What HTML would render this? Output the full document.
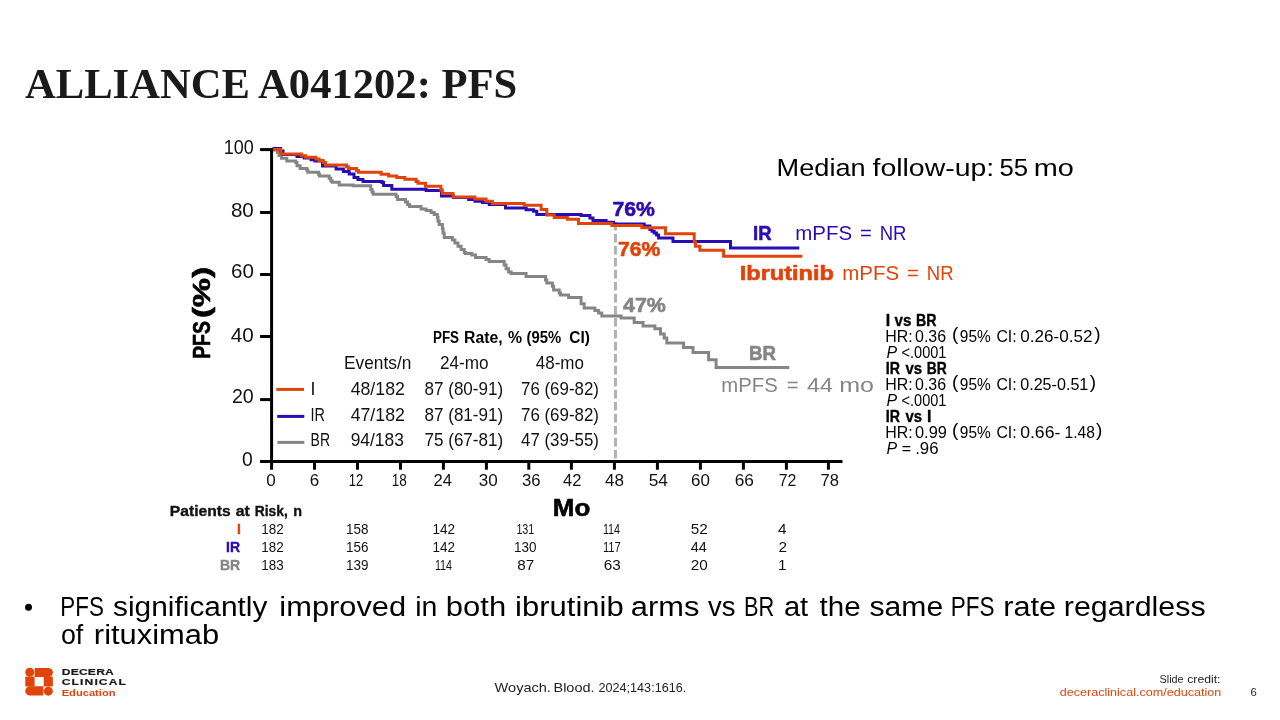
<!DOCTYPE html>
<html lang="en">
<head>
<meta charset="utf-8">
<title>ALLIANCE A041202: PFS</title>
<style>
html,body{margin:0;padding:0;background:#fff;}
body{width:1280px;height:720px;overflow:hidden;position:relative;font-family:"Liberation Sans",sans-serif;}
svg text{white-space:pre;}
</style>
</head>
<body>
<svg width="1280" height="720" viewBox="0 0 1280 720" style="position:absolute;left:0;top:0;will-change:transform;font-family:'Liberation Sans',sans-serif">
<line x1="615.45" y1="221.95" x2="615.45" y2="460.2" stroke="#b2b2b2" stroke-width="3" stroke-dasharray="8.6 3.4"/>
<g fill="none" stroke-width="3" stroke-linejoin="miter">
<polyline stroke="#858585" points="273.0,150.1 277.4,150.1 277.4,152.6 279.0,152.6 279.0,155.5 281.4,155.5 281.4,158.2 286.8,158.2 286.8,161.0 295.8,161.0 295.8,162.6 297.0,162.6 297.0,165.8 300.1,165.8 300.1,168.5 306.8,168.5 306.8,170.1 307.8,170.1 307.8,172.2 318.6,172.2 318.6,174.2 319.5,174.2 319.5,176.0 329.2,176.0 329.2,178.2 330.8,178.2 330.8,180.8 332.0,180.8 332.0,182.2 339.2,182.2 339.2,185.1 353.0,185.1 353.0,185.8 370.8,185.8 370.8,189.5 372.0,189.5 372.0,192.0 373.2,192.0 373.2,194.2 396.1,194.2 396.1,196.4 397.6,196.4 397.6,199.5 405.5,199.5 405.5,202.0 407.6,202.0 407.6,204.5 409.5,204.5 409.5,206.6 421.1,206.6 421.1,208.9 426.1,208.9 426.1,210.5 431.1,210.5 431.1,212.5 434.2,212.5 434.2,214.4 437.4,214.4 437.4,217.5 438.0,217.5 438.0,221.2 439.2,221.2 439.2,224.4 442.4,224.4 442.4,228.8 443.0,228.8 443.0,233.1 444.2,233.1 444.2,237.5 452.4,237.5 452.4,240.0 454.9,240.0 454.9,243.1 458.0,243.1 458.0,246.2 461.1,246.2 461.1,249.4 464.2,249.4 464.2,252.5 465.5,252.5 465.5,253.5 471.8,253.5 471.8,255.0 475.5,255.0 475.5,257.5 486.1,257.5 486.1,259.4 489.2,259.4 489.2,261.5 504.2,261.5 504.2,265.0 506.1,265.0 506.1,268.8 508.6,268.8 508.6,271.9 511.1,271.9 511.1,273.5 526.1,273.5 526.1,276.5 545.5,276.5 545.5,280.0 546.8,280.0 546.8,283.1 552.4,283.1 552.4,286.2 553.6,286.2 553.6,290.0 559.2,290.0 559.2,293.1 560.5,293.1 560.5,295.0 568.6,295.0 568.6,297.5 581.1,297.5 581.1,303.8 584.2,303.8 584.2,308.1 594.9,308.1 594.9,310.6 598.6,310.6 598.6,313.1 601.8,313.1 601.8,316.0 621.1,316.0 621.1,318.1 634.2,318.1 634.2,322.5 643.0,322.5 643.0,326.0 654.9,326.0 654.9,328.8 660.5,328.8 660.5,334.0 664.2,334.0 664.2,338.1 666.8,338.1 666.8,343.1 683.6,343.1 683.6,347.5 693.0,347.5 693.0,352.5 708.6,352.5 708.6,359.8 716.1,359.8 716.1,367.5 789.3,367.5"/>
<polyline stroke="#2a0cb4" points="272.4,148.6 280.5,148.6 280.5,151.0 283.0,151.0 283.0,154.5 297.0,154.5 297.0,156.4 304.2,156.4 304.2,158.0 311.1,158.0 311.1,159.8 314.9,159.8 314.9,161.0 322.5,161.0 322.5,166.0 336.1,166.0 336.1,168.9 343.4,168.9 343.4,171.4 349.2,171.4 349.2,173.9 354.0,173.9 354.0,177.6 358.0,177.6 358.0,179.5 363.0,179.5 363.0,181.4 382.0,181.4 382.0,182.6 383.6,182.6 383.6,185.5 391.8,185.5 391.8,189.2 426.1,189.2 426.1,190.6 441.5,190.6 441.5,196.0 453.6,196.0 453.6,197.5 468.6,197.5 468.6,199.4 474.9,199.4 474.9,201.2 482.4,201.2 482.4,202.5 489.2,202.5 489.2,204.4 505.5,204.4 505.5,208.1 526.1,208.1 526.1,209.8 533.6,209.8 533.6,211.2 536.8,211.2 536.8,214.6 581.1,214.6 581.1,215.6 589.9,215.6 589.9,218.1 593.0,218.1 593.0,220.6 606.1,220.6 606.1,222.2 613.6,222.2 613.6,224.0 644.2,224.0 644.2,226.0 649.9,226.0 649.9,229.4 652.0,229.4 652.0,231.2 654.2,231.2 654.2,233.1 656.5,233.1 656.5,235.0 658.6,235.0 658.6,238.1 673.0,238.1 673.0,241.6 730.5,241.6 730.5,248.1 799.3,248.1"/>
<polyline stroke="#e0440a" points="272.4,149.5 280.9,149.5 280.9,153.9 301.5,153.9 301.5,155.8 305.5,155.8 305.5,157.2 315.9,157.2 315.9,158.9 319.2,158.9 319.2,160.8 323.4,160.8 323.4,162.6 325.5,162.6 325.5,165.1 346.5,165.1 346.5,166.8 348.4,166.8 348.4,168.5 356.5,168.5 356.5,170.5 358.4,170.5 358.4,172.2 381.1,172.2 381.1,174.2 388.6,174.2 388.6,176.0 396.8,176.0 396.8,177.6 404.9,177.6 404.9,179.2 416.1,179.2 416.1,181.4 418.0,181.4 418.0,183.2 425.5,183.2 425.5,186.2 440.9,186.2 440.9,190.0 442.4,190.0 442.4,193.5 453.0,193.5 453.0,196.9 474.9,196.9 474.9,199.0 486.1,199.0 486.1,201.2 492.4,201.2 492.4,203.5 524.2,203.5 524.2,205.2 541.1,205.2 541.1,209.4 546.8,209.4 546.8,215.0 554.2,215.0 554.2,217.5 567.4,217.5 567.4,219.3 578.5,219.3 578.5,223.5 611.8,223.5 611.8,225.6 641.8,225.6 641.8,227.8 665.5,227.8 665.5,233.8 694.2,233.8 694.2,241.9 695.5,241.9 695.5,246.2 699.9,246.2 699.9,250.2 723.6,250.2 723.6,256.2 802.4,256.2"/>
</g>
<line x1="271.6" y1="148.2" x2="271.6" y2="469.7" stroke="#000" stroke-width="3"/>
<line x1="260.1" y1="461.6" x2="842.5" y2="461.6" stroke="#000" stroke-width="3"/>
<line x1="260.1" y1="149.6" x2="271.6" y2="149.6" stroke="#000" stroke-width="3"/>
<line x1="260.1" y1="212.5" x2="271.6" y2="212.5" stroke="#000" stroke-width="3"/>
<line x1="260.1" y1="274.5" x2="271.6" y2="274.5" stroke="#000" stroke-width="3"/>
<line x1="260.1" y1="336.5" x2="271.6" y2="336.5" stroke="#000" stroke-width="3"/>
<line x1="260.1" y1="399.6" x2="271.6" y2="399.6" stroke="#000" stroke-width="3"/>
<line x1="314.50" y1="461.6" x2="314.50" y2="469.7" stroke="#000" stroke-width="3"/>
<line x1="357.50" y1="461.6" x2="357.50" y2="469.7" stroke="#000" stroke-width="3"/>
<line x1="400.50" y1="461.6" x2="400.50" y2="469.7" stroke="#000" stroke-width="3"/>
<line x1="443.40" y1="461.6" x2="443.40" y2="469.7" stroke="#000" stroke-width="3"/>
<line x1="486.40" y1="461.6" x2="486.40" y2="469.7" stroke="#000" stroke-width="3"/>
<line x1="528.80" y1="461.6" x2="528.80" y2="469.7" stroke="#000" stroke-width="3"/>
<line x1="571.40" y1="461.6" x2="571.40" y2="469.7" stroke="#000" stroke-width="3"/>
<line x1="614.40" y1="461.6" x2="614.40" y2="469.7" stroke="#000" stroke-width="3"/>
<line x1="657.40" y1="461.6" x2="657.40" y2="469.7" stroke="#000" stroke-width="3"/>
<line x1="700.40" y1="461.6" x2="700.40" y2="469.7" stroke="#000" stroke-width="3"/>
<line x1="743.40" y1="461.6" x2="743.40" y2="469.7" stroke="#000" stroke-width="3"/>
<line x1="786.40" y1="461.6" x2="786.40" y2="469.7" stroke="#000" stroke-width="3"/>
<line x1="828.40" y1="461.6" x2="828.40" y2="469.7" stroke="#000" stroke-width="3"/>
<line x1="276.3" y1="389.4" x2="304.0" y2="389.4" stroke="#e0440a" stroke-width="3"/>
<line x1="277.2" y1="416.4" x2="304.3" y2="416.4" stroke="#2a0cb4" stroke-width="3"/>
<line x1="277.4" y1="442.4" x2="304.3" y2="442.4" stroke="#858585" stroke-width="3"/>
<circle cx="28.5" cy="607.3" r="3.5" fill="#000"/>
<g fill="#e0440a">
<circle cx="29.75" cy="672.3" r="4.5"/>
<path d="M35.4 667.9h12.9a4.6 4.6 0 0 1 0 9.2h-13.7v-8.4a0.8 0.8 0 0 1 0.8-0.8z"/>
<rect x="25.3" y="676.6" width="9.3" height="9.9"/>
<rect x="43.7" y="676.6" width="9.1" height="9.9"/>
<path d="M29.9 686.3h13.5v8.5a0.8 0.8 0 0 1-0.8 0.8h-12.7a4.65 4.65 0 0 1 0-9.3z"/>
<circle cx="48.35" cy="691.15" r="4.5"/>
</g>
<text x="223.82" y="154.00" textLength="29.95" lengthAdjust="spacingAndGlyphs" fill="#111111" style="font-size:19.3px;">100</text>
<text x="230.90" y="217.00" textLength="22.92" lengthAdjust="spacingAndGlyphs" fill="#111111" style="font-size:19.3px;">80</text>
<text x="231.00" y="277.90" textLength="22.82" lengthAdjust="spacingAndGlyphs" fill="#111111" style="font-size:19.3px;">60</text>
<text x="230.80" y="341.90" textLength="23.03" lengthAdjust="spacingAndGlyphs" fill="#111111" style="font-size:19.3px;">40</text>
<text x="231.95" y="402.90" textLength="21.84" lengthAdjust="spacingAndGlyphs" fill="#111111" style="font-size:19.3px;">20</text>
<text x="242.05" y="465.90" fill="#111111" style="font-size:19.3px;">0</text>
<text x="266.32" y="485.90" fill="#111111" style="font-size:17px;">0</text>
<text x="309.75" y="485.90" fill="#111111" style="font-size:17px;">6</text>
<text x="348.63" y="485.90" textLength="14.52" lengthAdjust="spacingAndGlyphs" fill="#111111" style="font-size:17px;">12</text>
<text x="391.70" y="485.90" textLength="15.06" lengthAdjust="spacingAndGlyphs" fill="#111111" style="font-size:17px;">18</text>
<text x="433.50" y="485.90" textLength="18.44" lengthAdjust="spacingAndGlyphs" fill="#111111" style="font-size:17px;">24</text>
<text x="478.75" y="485.90" textLength="18.96" lengthAdjust="spacingAndGlyphs" fill="#111111" style="font-size:17px;">30</text>
<text x="521.90" y="485.90" textLength="18.55" lengthAdjust="spacingAndGlyphs" fill="#111111" style="font-size:17px;">36</text>
<text x="563.10" y="485.90" textLength="18.34" lengthAdjust="spacingAndGlyphs" fill="#111111" style="font-size:17px;">42</text>
<text x="605.00" y="485.90" textLength="18.96" lengthAdjust="spacingAndGlyphs" fill="#111111" style="font-size:17px;">48</text>
<text x="648.75" y="485.90" textLength="19.21" lengthAdjust="spacingAndGlyphs" fill="#111111" style="font-size:17px;">54</text>
<text x="691.00" y="485.90" textLength="18.85" lengthAdjust="spacingAndGlyphs" fill="#111111" style="font-size:17px;">60</text>
<text x="734.75" y="485.90" textLength="19.21" lengthAdjust="spacingAndGlyphs" fill="#111111" style="font-size:17px;">66</text>
<text x="778.75" y="485.90" textLength="17.67" lengthAdjust="spacingAndGlyphs" fill="#111111" style="font-size:17px;">72</text>
<text x="820.60" y="485.90" textLength="18.34" lengthAdjust="spacingAndGlyphs" fill="#111111" style="font-size:17px;">78</text>
<text transform="translate(210.00 358.00) rotate(-90)" y="0" fill="#000" stroke="#000" stroke-width="0.6" stroke-linejoin="round" style="font-size:23.5px;font-weight:700;"><tspan x="-0.82" textLength="37.68" lengthAdjust="spacingAndGlyphs">PFS</tspan> <tspan x="39.90" textLength="51.26" lengthAdjust="spacingAndGlyphs">(%)</tspan></text>
<text x="552.89" y="516.00" textLength="37.50" lengthAdjust="spacingAndGlyphs" fill="#000" stroke="#000" stroke-width="0.6" stroke-linejoin="round" style="font-size:23.5px;font-weight:700;">Mo</text>
<text y="176.00" fill="#000" style="font-size:24.2px;"><tspan x="776.63" textLength="89.00" lengthAdjust="spacingAndGlyphs">Median</tspan> <tspan x="872.50" textLength="121.72" lengthAdjust="spacingAndGlyphs">follow-up:</tspan> <tspan x="999.40" textLength="28.58" lengthAdjust="spacingAndGlyphs">55</tspan> <tspan x="1033.81" textLength="40.13" lengthAdjust="spacingAndGlyphs">mo</tspan></text>
<text x="612.40" y="215.60" textLength="42.40" lengthAdjust="spacingAndGlyphs" fill="#2a0cb4" stroke="#2a0cb4" stroke-width="0.6" stroke-linejoin="round" style="font-size:20.7px;font-weight:700;">76%</text>
<text x="618.00" y="255.60" textLength="42.30" lengthAdjust="spacingAndGlyphs" fill="#e0440a" stroke="#e0440a" stroke-width="0.6" stroke-linejoin="round" style="font-size:20.7px;font-weight:700;">76%</text>
<text x="623.00" y="311.90" textLength="42.91" lengthAdjust="spacingAndGlyphs" fill="#858585" stroke="#858585" stroke-width="0.6" stroke-linejoin="round" style="font-size:20.7px;font-weight:700;">47%</text>
<text x="753.09" y="240.00" textLength="18.51" lengthAdjust="spacingAndGlyphs" fill="#2a0cb4" stroke="#2a0cb4" stroke-width="0.6" stroke-linejoin="round" style="font-size:20.4px;font-weight:700;">IR</text>
<text y="240.00" fill="#2a0cb4" style="font-size:20.3px;"><tspan x="795.19" textLength="56.84" lengthAdjust="spacingAndGlyphs">mPFS</tspan> <tspan x="860.00">=</tspan> <tspan x="879.68" textLength="26.81" lengthAdjust="spacingAndGlyphs">NR</tspan></text>
<text x="739.73" y="280.40" textLength="94.15" lengthAdjust="spacingAndGlyphs" fill="#e0440a" stroke="#e0440a" stroke-width="0.6" stroke-linejoin="round" style="font-size:20.2px;font-weight:700;">Ibrutinib</text>
<text y="280.40" fill="#e0440a" style="font-size:20.3px;"><tspan x="842.29" textLength="56.84" lengthAdjust="spacingAndGlyphs">mPFS</tspan> <tspan x="907.10">=</tspan> <tspan x="926.78" textLength="26.81" lengthAdjust="spacingAndGlyphs">NR</tspan></text>
<text x="748.98" y="360.00" textLength="26.96" lengthAdjust="spacingAndGlyphs" fill="#858585" stroke="#858585" stroke-width="0.6" stroke-linejoin="round" style="font-size:20.4px;font-weight:700;">BR</text>
<text y="392.00" fill="#858585" style="font-size:20.3px;"><tspan x="721.30" textLength="56.43" lengthAdjust="spacingAndGlyphs">mPFS</tspan> <tspan x="786.85">=</tspan> <tspan x="807.10" textLength="25.62" lengthAdjust="spacingAndGlyphs">44</tspan> <tspan x="839.27" textLength="34.78" lengthAdjust="spacingAndGlyphs">mo</tspan></text>
<text y="326.00" fill="#000" stroke="#000" stroke-width="0.35" stroke-linejoin="round" style="font-size:15.9px;font-weight:700;"><tspan x="885.65">I</tspan> <tspan x="894.60" textLength="16.85" lengthAdjust="spacingAndGlyphs">vs</tspan> <tspan x="915.91" textLength="20.53" lengthAdjust="spacingAndGlyphs">BR</tspan></text>
<text y="342.00" fill="#000" style="font-size:15.9px;"><tspan x="885.25" textLength="27.42" lengthAdjust="spacingAndGlyphs" y="342.00">HR:</tspan> <tspan x="915.00" textLength="31.09" lengthAdjust="spacingAndGlyphs" y="342.00">0.36</tspan> <tspan x="952.10" y="340.40" style="font-size:19.0px">(</tspan><tspan x="959.80" textLength="30.93" lengthAdjust="spacingAndGlyphs" y="342.00">95%</tspan> <tspan x="996.40" textLength="20.32" lengthAdjust="spacingAndGlyphs" y="342.00">CI:</tspan> <tspan x="1020.20" textLength="72.23" lengthAdjust="spacingAndGlyphs" y="342.00">0.26-0.52</tspan><tspan x="1094.35" y="340.40" style="font-size:19.0px">)</tspan></text>
<text x="886.60" y="358.00" fill="#000" style="font-size:15.9px;font-style:italic;">P</text>
<text x="901.60" y="358.00" textLength="44.85" lengthAdjust="spacingAndGlyphs" fill="#000" style="font-size:15.9px;">&lt;.0001</text>
<text y="374.00" fill="#000" stroke="#000" stroke-width="0.35" stroke-linejoin="round" style="font-size:15.9px;font-weight:700;"><tspan x="885.70" textLength="14.23" lengthAdjust="spacingAndGlyphs">IR</tspan> <tspan x="905.50" textLength="16.65" lengthAdjust="spacingAndGlyphs">vs</tspan> <tspan x="926.63" textLength="20.01" lengthAdjust="spacingAndGlyphs">BR</tspan></text>
<text y="390.00" fill="#000" style="font-size:15.9px;"><tspan x="885.25" textLength="27.42" lengthAdjust="spacingAndGlyphs" y="390.00">HR:</tspan> <tspan x="915.00" textLength="31.09" lengthAdjust="spacingAndGlyphs" y="390.00">0.36</tspan> <tspan x="952.10" y="388.40" style="font-size:19.0px">(</tspan><tspan x="959.80" textLength="30.93" lengthAdjust="spacingAndGlyphs" y="390.00">95%</tspan> <tspan x="996.40" textLength="20.32" lengthAdjust="spacingAndGlyphs" y="390.00">CI:</tspan> <tspan x="1020.20" textLength="68.14" lengthAdjust="spacingAndGlyphs" y="390.00">0.25-0.51</tspan><tspan x="1089.75" y="388.40" style="font-size:19.0px">)</tspan></text>
<text x="886.60" y="406.00" fill="#000" style="font-size:15.9px;font-style:italic;">P</text>
<text x="901.60" y="406.00" textLength="44.85" lengthAdjust="spacingAndGlyphs" fill="#000" style="font-size:15.9px;">&lt;.0001</text>
<text y="422.00" fill="#000" stroke="#000" stroke-width="0.35" stroke-linejoin="round" style="font-size:15.9px;font-weight:700;"><tspan x="885.70" textLength="14.23" lengthAdjust="spacingAndGlyphs">IR</tspan> <tspan x="905.50" textLength="16.65" lengthAdjust="spacingAndGlyphs">vs</tspan> <tspan x="926.95">I</tspan></text>
<text y="438.00" fill="#000" style="font-size:15.9px;"><tspan x="885.25" textLength="27.42" lengthAdjust="spacingAndGlyphs" y="438.00">HR:</tspan> <tspan x="915.00" textLength="31.83" lengthAdjust="spacingAndGlyphs" y="438.00">0.99</tspan> <tspan x="952.10" y="436.40" style="font-size:19.0px">(</tspan><tspan x="959.80" textLength="30.93" lengthAdjust="spacingAndGlyphs" y="438.00">95%</tspan> <tspan x="996.40" textLength="20.32" lengthAdjust="spacingAndGlyphs" y="438.00">CI:</tspan> <tspan x="1020.20" textLength="40.12" lengthAdjust="spacingAndGlyphs" y="438.00">0.66-</tspan> <tspan x="1064.52" textLength="30.32" lengthAdjust="spacingAndGlyphs" y="438.00">1.48</tspan><tspan x="1095.95" y="436.40" style="font-size:19.0px">)</tspan></text>
<text x="886.60" y="454.00" fill="#000" style="font-size:15.9px;font-style:italic;">P</text>
<text y="454.00" fill="#000" style="font-size:15.9px;"><tspan x="901.75">=</tspan> <tspan x="915.19" textLength="23.39" lengthAdjust="spacingAndGlyphs">.96</tspan></text>
<text y="342.75" fill="#000" style="font-size:15.8px;font-weight:700;"><tspan x="432.95" textLength="26.11" lengthAdjust="spacingAndGlyphs">PFS</tspan> <tspan x="464.10" textLength="38.59" lengthAdjust="spacingAndGlyphs">Rate,</tspan> <tspan x="508.10">%</tspan> <tspan x="526.60" textLength="34.64" lengthAdjust="spacingAndGlyphs">(95%</tspan> <tspan x="569.30" textLength="20.55" lengthAdjust="spacingAndGlyphs">CI)</tspan></text>
<text x="344.02" y="368.90" textLength="67.30" lengthAdjust="spacingAndGlyphs" fill="#111" style="font-size:17.7px;">Events/n</text>
<text x="439.90" y="368.90" textLength="48.64" lengthAdjust="spacingAndGlyphs" fill="#111" style="font-size:17.7px;">24-mo</text>
<text x="535.80" y="368.90" textLength="48.14" lengthAdjust="spacingAndGlyphs" fill="#111" style="font-size:17.7px;">48-mo</text>
<text x="310.40" y="394.90" fill="#111" style="font-size:17.7px;">I</text>
<text x="350.70" y="394.90" textLength="54.14" lengthAdjust="spacingAndGlyphs" fill="#111" style="font-size:17.7px;">48/182</text>
<text x="424.50" y="394.90" textLength="78.66" lengthAdjust="spacingAndGlyphs" fill="#111" style="font-size:17.7px;">87 (80-91)</text>
<text x="521.00" y="394.90" textLength="77.95" lengthAdjust="spacingAndGlyphs" fill="#111" style="font-size:17.7px;">76 (69-82)</text>
<text x="310.58" y="420.70" textLength="14.45" lengthAdjust="spacingAndGlyphs" fill="#111" style="font-size:17.7px;">IR</text>
<text x="350.70" y="420.70" textLength="54.14" lengthAdjust="spacingAndGlyphs" fill="#111" style="font-size:17.7px;">47/182</text>
<text x="424.50" y="420.70" textLength="78.66" lengthAdjust="spacingAndGlyphs" fill="#111" style="font-size:17.7px;">87 (81-91)</text>
<text x="521.00" y="420.70" textLength="77.95" lengthAdjust="spacingAndGlyphs" fill="#111" style="font-size:17.7px;">76 (69-82)</text>
<text x="310.61" y="446.40" textLength="19.51" lengthAdjust="spacingAndGlyphs" fill="#111" style="font-size:17.7px;">BR</text>
<text x="350.70" y="446.40" textLength="53.14" lengthAdjust="spacingAndGlyphs" fill="#111" style="font-size:17.7px;">94/183</text>
<text x="424.50" y="446.40" textLength="78.66" lengthAdjust="spacingAndGlyphs" fill="#111" style="font-size:17.7px;">75 (67-81)</text>
<text x="521.00" y="446.40" textLength="77.95" lengthAdjust="spacingAndGlyphs" fill="#111" style="font-size:17.7px;">47 (39-55)</text>
<text y="515.80" fill="#111" stroke="#111" stroke-width="0.35" stroke-linejoin="round" style="font-size:14.4px;font-weight:700;"><tspan x="169.80" textLength="60.90" lengthAdjust="spacingAndGlyphs">Patients</tspan> <tspan x="235.80" textLength="14.07" lengthAdjust="spacingAndGlyphs">at</tspan> <tspan x="254.70" textLength="33.20" lengthAdjust="spacingAndGlyphs">Risk,</tspan> <tspan x="293.30">n</tspan></text>
<text x="237.00" y="533.90" fill="#e0440a" stroke="#e0440a" stroke-width="0.35" stroke-linejoin="round" style="font-size:14px;font-weight:700;">I</text>
<text x="226.11" y="552.00" fill="#2a0cb4" stroke="#2a0cb4" stroke-width="0.35" stroke-linejoin="round" style="font-size:14px;font-weight:700;">IR</text>
<text x="219.89" y="569.60" fill="#858585" stroke="#858585" stroke-width="0.35" stroke-linejoin="round" style="font-size:14px;font-weight:700;">BR</text>
<text x="261.28" y="533.90" textLength="22.46" lengthAdjust="spacingAndGlyphs" fill="#111" style="font-size:15.4px;">182</text>
<text x="346.08" y="533.90" textLength="22.46" lengthAdjust="spacingAndGlyphs" fill="#111" style="font-size:15.4px;">158</text>
<text x="432.58" y="533.90" textLength="22.46" lengthAdjust="spacingAndGlyphs" fill="#111" style="font-size:15.4px;">142</text>
<text x="516.41" y="533.90" textLength="17.87" lengthAdjust="spacingAndGlyphs" fill="#111" style="font-size:15.4px;">131</text>
<text x="602.91" y="533.90" textLength="17.18" lengthAdjust="spacingAndGlyphs" fill="#111" style="font-size:15.4px;">114</text>
<text x="690.76" y="533.90" textLength="17.03" lengthAdjust="spacingAndGlyphs" fill="#111" style="font-size:15.4px;">52</text>
<text x="778.10" y="533.90" fill="#111" style="font-size:15.4px;">4</text>
<text x="261.28" y="552.00" textLength="22.46" lengthAdjust="spacingAndGlyphs" fill="#111" style="font-size:15.4px;">182</text>
<text x="346.08" y="552.00" textLength="22.46" lengthAdjust="spacingAndGlyphs" fill="#111" style="font-size:15.4px;">156</text>
<text x="432.58" y="552.00" textLength="22.46" lengthAdjust="spacingAndGlyphs" fill="#111" style="font-size:15.4px;">142</text>
<text x="514.08" y="552.00" textLength="22.46" lengthAdjust="spacingAndGlyphs" fill="#111" style="font-size:15.4px;">130</text>
<text x="602.88" y="552.00" textLength="17.93" lengthAdjust="spacingAndGlyphs" fill="#111" style="font-size:15.4px;">117</text>
<text x="690.76" y="552.00" textLength="16.06" lengthAdjust="spacingAndGlyphs" fill="#111" style="font-size:15.4px;">44</text>
<text x="778.60" y="552.00" fill="#111" style="font-size:15.4px;">2</text>
<text x="261.28" y="569.60" textLength="22.46" lengthAdjust="spacingAndGlyphs" fill="#111" style="font-size:15.4px;">183</text>
<text x="346.08" y="569.60" textLength="22.46" lengthAdjust="spacingAndGlyphs" fill="#111" style="font-size:15.4px;">139</text>
<text x="434.91" y="569.60" textLength="17.18" lengthAdjust="spacingAndGlyphs" fill="#111" style="font-size:15.4px;">114</text>
<text x="517.26" y="569.60" textLength="17.03" lengthAdjust="spacingAndGlyphs" fill="#111" style="font-size:15.4px;">87</text>
<text x="603.76" y="569.60" textLength="17.03" lengthAdjust="spacingAndGlyphs" fill="#111" style="font-size:15.4px;">63</text>
<text x="690.76" y="569.60" textLength="17.03" lengthAdjust="spacingAndGlyphs" fill="#111" style="font-size:15.4px;">20</text>
<text x="778.10" y="569.60" fill="#111" style="font-size:15.4px;">1</text>
<text x="25.00" y="98.00" textLength="492.18" lengthAdjust="spacingAndGlyphs" fill="#1a1a1a" style="font-size:42.6px;font-weight:700;font-family:'Liberation Serif',serif;">ALLIANCE A041202: PFS</text>
<text y="616.00" fill="#000" style="font-size:27.0px;"><tspan x="60.34" textLength="43.49" lengthAdjust="spacingAndGlyphs">PFS</tspan> <tspan x="113.00" textLength="154.45" lengthAdjust="spacingAndGlyphs">significantly</tspan> <tspan x="279.36" textLength="126.80" lengthAdjust="spacingAndGlyphs">improved</tspan> <tspan x="415.20" textLength="22.12" lengthAdjust="spacingAndGlyphs">in</tspan> <tspan x="445.85" textLength="60.31" lengthAdjust="spacingAndGlyphs">both</tspan> <tspan x="515.10" textLength="108.56" lengthAdjust="spacingAndGlyphs">ibrutinib</tspan> <tspan x="630.86" textLength="68.46" lengthAdjust="spacingAndGlyphs">arms</tspan> <tspan x="708.00" textLength="27.51" lengthAdjust="spacingAndGlyphs">vs</tspan> <tspan x="743.89" textLength="30.27" lengthAdjust="spacingAndGlyphs">BR</tspan> <tspan x="783.92" textLength="24.29" lengthAdjust="spacingAndGlyphs">at</tspan> <tspan x="819.50" textLength="41.11" lengthAdjust="spacingAndGlyphs">the</tspan> <tspan x="869.50" textLength="73.63" lengthAdjust="spacingAndGlyphs">same</tspan> <tspan x="950.83" textLength="43.76" lengthAdjust="spacingAndGlyphs">PFS</tspan> <tspan x="1003.37" textLength="52.79" lengthAdjust="spacingAndGlyphs">rate</tspan> <tspan x="1063.88" textLength="141.69" lengthAdjust="spacingAndGlyphs">regardless</tspan></text>
<text y="643.60" fill="#000" style="font-size:27.0px;"><tspan x="60.91" textLength="22.35" lengthAdjust="spacingAndGlyphs">of</tspan> <tspan x="93.86" textLength="125.31" lengthAdjust="spacingAndGlyphs">rituximab</tspan></text>
<text y="691.60" fill="#222" style="font-size:12.8px;"><tspan x="494.60" textLength="56.33" lengthAdjust="spacingAndGlyphs">Woyach.</tspan> <tspan x="553.47" textLength="41.16" lengthAdjust="spacingAndGlyphs">Blood.</tspan> <tspan x="598.50" textLength="87.75" lengthAdjust="spacingAndGlyphs">2024;143:1616.</tspan></text>
<text y="683.20" fill="#222" style="font-size:11.2px;"><tspan x="1159.60" textLength="24.01" lengthAdjust="spacingAndGlyphs">Slide</tspan> <tspan x="1187.20" textLength="33.32" lengthAdjust="spacingAndGlyphs">credit:</tspan></text>
<text x="1059.70" y="695.60" textLength="161.62" lengthAdjust="spacingAndGlyphs" fill="#e0440a" style="font-size:11.3px;">deceraclinical.com/education</text>
<text x="1250.50" y="695.60" fill="#222" style="font-size:11.3px;">6</text>
<text x="61.70" y="674.90" textLength="52.35" lengthAdjust="spacingAndGlyphs" letter-spacing="0.168" fill="#1a1a1a" stroke="#1a1a1a" stroke-width="0.2" stroke-linejoin="round" style="font-size:9.3px;font-weight:700;">DECERA</text>
<text x="61.70" y="685.20" textLength="65.41" lengthAdjust="spacingAndGlyphs" letter-spacing="0.867" fill="#1a1a1a" stroke="#1a1a1a" stroke-width="0.2" stroke-linejoin="round" style="font-size:9.3px;font-weight:700;">CLINICAL</text>
<text x="61.70" y="695.80" textLength="53.83" lengthAdjust="spacingAndGlyphs" fill="#e0440a" style="font-size:9.2px;font-weight:700;">Education</text>
</svg>
</body>
</html>
